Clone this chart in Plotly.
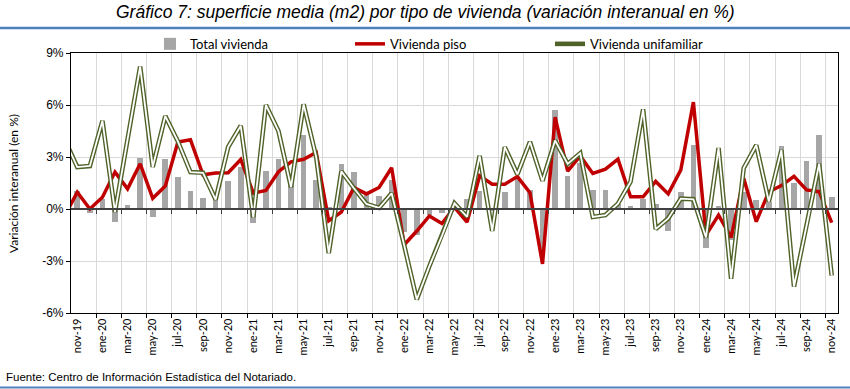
import numpy as np
import plotly.graph_objects as go

# ---- data (first entry 'oct-19' only feeds the clipped first line segment) ----
months = ["oct-19", "nov-19", "dic-19",
          "ene-20", "feb-20", "mar-20", "abr-20", "may-20", "jun-20", "jul-20", "ago-20", "sep-20", "oct-20", "nov-20", "dic-20",
          "ene-21", "feb-21", "mar-21", "abr-21", "may-21", "jun-21", "jul-21", "ago-21", "sep-21", "oct-21", "nov-21", "dic-21",
          "ene-22", "feb-22", "mar-22", "abr-22", "may-22", "jun-22", "jul-22", "ago-22", "sep-22", "oct-22", "nov-22", "dic-22",
          "ene-23", "feb-23", "mar-23", "abr-23", "may-23", "jun-23", "jul-23", "ago-23", "sep-23", "oct-23", "nov-23", "dic-23",
          "ene-24", "feb-24", "mar-24", "abr-24", "may-24", "jun-24", "jul-24", "ago-24", "sep-24", "oct-24", "nov-24"]

total_vivienda = [None, 1.03, -0.25,
                  0.6, -0.77, 0.25, 2.94, -0.48, 2.88, 1.84, 1.04, 0.64, 0.65, 1.59, 2.42,
                  -0.81, 2.2, 2.86, 1.7, 4.26, 1.65, 0.1, 2.62, 2.15, 0.87, 0.73, 1.7,
                  -1.35, -1.5, -0.36, -0.24, 0.1, 0.56, 1.04, -0.1, 0.97, 1.82, 1.07, -2.7,
                  5.73, 1.9, 2.65, 1.12, 1.08, 0.31, 0.2, 0.6, 0.31, -1.28, 0.98, 3.7,
                  -2.25, 0.15, -1.77, 1.0, 0.54, 0.4, 3.64, 1.5, 2.76, 4.27, 0.7]

vivienda_piso = [-0.4, 0.97, 0.0,
                 0.68, 2.13, 1.16, 2.61, 0.62, 1.32, 3.87, 4.0, 1.97, 2.07, 2.09, 2.86,
                 0.91, 1.07, 2.15, 2.72, 2.87, 3.26, -0.68, -0.17, 1.23, 0.87, 1.24, 2.38,
                 -2.06, -1.27, -0.4, -0.84, 0.1, -0.75, 1.92, 1.43, 1.43, 1.87, 0.94, -3.17,
                 5.3, 2.18, 3.06, 2.05, 2.3, 2.88, 0.7, 0.7, 1.59, 0.87, 2.26, 6.17,
                 -1.51, -0.35, -1.64, 1.78, -0.73, 1.0, 1.35, 1.88, 1.1, 1.0, -0.79]

vivienda_unifamiliar = [4.0, 2.42, 2.48,
                        5.09, -0.17, 4.0, 8.22, 2.42, 5.36, 3.9, 2.13, 2.09, 0.54, 3.58, 4.8,
                        -0.48, 6.0, 4.5, 1.26, 6.04, 3.0, -2.55, 2.17, 1.2, 0.29, 0.06, 0.91,
                        -2.1, -5.22, -3.3, -1.55, 0.33, -0.45, 3.07, -1.26, 3.57, 2.0, 3.88, 1.62,
                        3.95, 2.6, 3.22, -0.46, -0.35, 0.31, 1.57, 5.75, -1.16, -0.54, 0.6, 0.56,
                        -1.64, 3.52, -4.02, 2.36, 3.68, 0.43, 3.4, -4.47, -0.95, 2.61, -3.83]

y_ticks = [-6, -3, 0, 3, 6, 9]

# ---- positions derived from the month list ----
x = np.arange(len(months)) - 1          # nov-19 -> 0
label_x = x[1::2]
label_text = months[1::2]
bound_x = (x[1:-1] + 0.5)[1::2]          # category boundaries every 2 months

GRID = "#d9d9d9"
NARROW = "Liberation Sans Narrow, Arial Narrow, Liberation Sans, sans-serif"
BODY = "Lato, Calibri, Open Sans, sans-serif"

fig = go.Figure()
fig.add_trace(go.Bar(x=x, y=total_vivienda, name="Total vivienda",
                     marker=dict(color="#a6a6a6", line=dict(width=0)), width=0.45))
fig.add_trace(go.Scatter(x=x, y=vivienda_piso, name="Vivienda piso", mode="lines",
                         line=dict(color="#c00000", width=3.5)))
fig.add_trace(go.Scatter(x=x, y=vivienda_unifamiliar, name="Vivienda unifamiliar", mode="lines",
                         line=dict(color="#4f6228", width=4.6), legendgroup="u"))
fig.add_trace(go.Scatter(x=x, y=vivienda_unifamiliar, name="Vivienda unifamiliar", mode="lines",
                         line=dict(color="#ffffff", width=1.8), showlegend=False, legendgroup="u",
                         hoverinfo="skip"))
# invisible trace to activate the zero-line axis
fig.add_trace(go.Scatter(x=[x[1]], y=[None], xaxis="x2", showlegend=False, hoverinfo="skip"))

fig.update_layout(
    width=850, height=389,
    margin=dict(l=71, r=12, t=53, b=76),
    paper_bgcolor="white", plot_bgcolor="white",
    bargap=0,
    showlegend=True,
    legend=dict(orientation="h", x=(150 - 71) / 767, xanchor="left", y=1.035, yanchor="middle",
                font=dict(family=BODY, size=13, color="#000"),
                entrywidth=155, entrywidthmode="pixels", bgcolor="rgba(0,0,0,0)",
                traceorder="normal", borderwidth=0),
    xaxis=dict(range=[-0.5, 60.5], tickmode="array", tickvals=label_x, ticktext=label_text,
               tickangle=-90, ticks="", showgrid=False, zeroline=False, automargin=False,
               tickfont=dict(family=BODY, size=11, color="#000"),
               showline=True, linecolor="#000", linewidth=1.2, mirror=True,
               minor=dict(tickmode="array", tickvals=bound_x, ticks="outside", ticklen=4,
                          tickcolor="#000", showgrid=True, gridcolor=GRID, gridwidth=1)),
    xaxis2=dict(range=[-0.5, 60.5], overlaying="x", anchor="free", position=0.4, side="bottom",
                tickmode="array", tickvals=bound_x, ticks="outside", ticklen=4, tickcolor="#404040",
                showticklabels=False, showgrid=False, zeroline=False, automargin=False,
                showline=True, linecolor="#404040", linewidth=1.5),
    yaxis=dict(range=[-6, 9], tickmode="array", tickvals=y_ticks,
               ticktext=[f"{v}%" for v in y_ticks], automargin=False,
               showgrid=True, gridcolor=GRID, gridwidth=1, zeroline=False,
               showline=True, linecolor="#000", linewidth=1.2, mirror=True,
               ticks="outside", ticklen=4, tickcolor="#000",
               tickfont=dict(family=NARROW, size=12, color="#000")),
    annotations=[
        dict(text="<i>Gráfico 7: superficie media (m2) por tipo de vivienda (variación interanual en %)</i>",
             xref="paper", yref="paper", x=(425 - 71) / 767, y=(313 - 12) / 260,
             xanchor="center", yanchor="middle", showarrow=False,
             font=dict(family=NARROW, size=17.5, color="#000")),
        dict(text="Variación interanual (en %)", textangle=-90,
             xref="paper", yref="paper", x=(13 - 71) / 767, y=0.5,
             xanchor="center", yanchor="middle", showarrow=False,
             font=dict(family=BODY, size=12, color="#000")),
        dict(text="Fuente: Centro de Información Estadística del Notariado.",
             xref="paper", yref="paper", x=(4 - 71) / 767, y=(313 - 377) / 260,
             xanchor="left", yanchor="middle", showarrow=False,
             font=dict(family=NARROW, size=11.5, color="#000")),
    ],
    shapes=[
        dict(type="line", xref="paper", yref="paper", x0=-71 / 767, x1=(850 - 71) / 767,
             y0=(313 - 28) / 260, y1=(313 - 28) / 260, line=dict(color="#4f81bd", width=2.5)),
        dict(type="line", xref="paper", yref="paper", x0=-71 / 767, x1=(850 - 71) / 767,
             y0=(313 - 387.5) / 260, y1=(313 - 387.5) / 260, line=dict(color="#4f81bd", width=2)),
    ],
)

fig.write_html("out.html", config={"displayModeBar": False},
               post_script="document.body.style.margin='0';")
